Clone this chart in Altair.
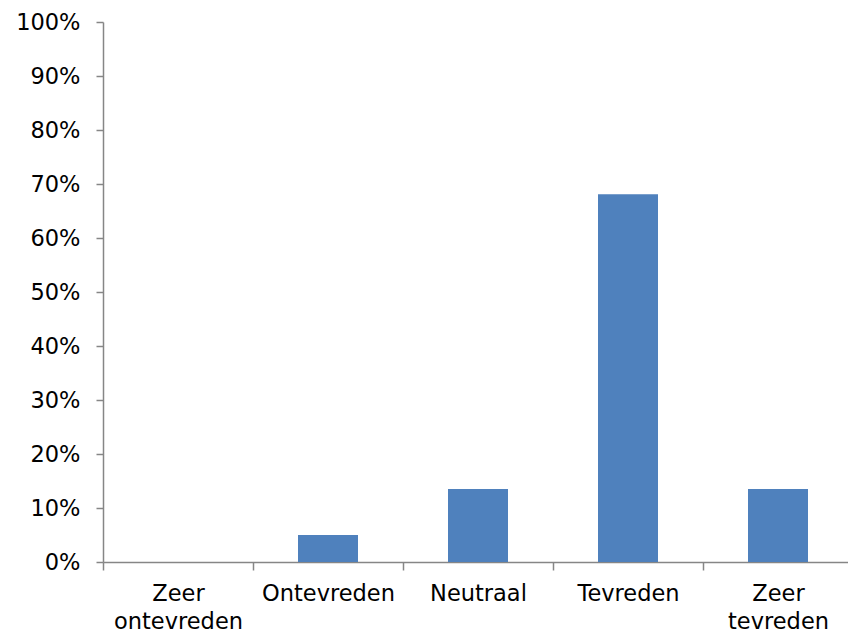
import altair as alt
import pandas as pd

# Satisfaction survey: share of responses per answer (percent)
categories = ["Zeer\nontevreden", "Ontevreden", "Neutraal", "Tevreden", "Zeer\ntevreden"]
shares = [0.0, 5.0, 13.5, 68.1, 13.5]
y_ticks = [0, 10, 20, 30, 40, 50, 60, 70, 80, 90, 100]

df = pd.DataFrame({"answer": categories, "share": shares})

FONT = "DejaVu Sans"
AXIS_GREY = "#868686"

chart = (
    alt.Chart(df)
    .mark_bar(color="#4F81BD", width=alt.RelativeBandSize(0.4))
    .encode(
        x=alt.X(
            "answer:N",
            sort=categories,
            title=None,
            scale=alt.Scale(paddingInner=0, paddingOuter=0, range=[0, 750]),
            axis=alt.Axis(
                labelAngle=0,
                labelFont=FONT,
                labelFontSize=22.5,
                labelColor="#000000",
                labelBaseline="top",
                labelLineHeight=28,
                labelPadding=12,
                labelExpr="split(datum.label, '\\n')",
                tickBand="extent",
                tickSize=8,
                tickColor=AXIS_GREY,
                domainColor=AXIS_GREY,
                domainWidth=1.5,
                tickWidth=1.5,
                grid=False,
            ),
        ),
        y=alt.Y(
            "share:Q",
            title=None,
            scale=alt.Scale(domain=[0, 100], nice=False),
            axis=alt.Axis(
                values=y_ticks,
                labelExpr="datum.value + '%'",
                labelFont=FONT,
                labelFontSize=22.5,
                labelColor="#000000",
                labelPadding=16,
                tickSize=7,
                tickColor=AXIS_GREY,
                domainColor=AXIS_GREY,
                domainWidth=1.5,
                tickWidth=1.5,
                grid=False,
            ),
        ),
    )
    .properties(
        width=745,
        height=540,
        autosize=alt.AutoSizeParams(type="none"),
        padding={"left": 103, "top": 22, "right": 0, "bottom": 71},
    )
    .configure(background="#ffffff", view=alt.ViewConfig(strokeWidth=0, stroke=None))
)

chart.save("out.html", embed_options={"renderer": "svg", "actions": False})
